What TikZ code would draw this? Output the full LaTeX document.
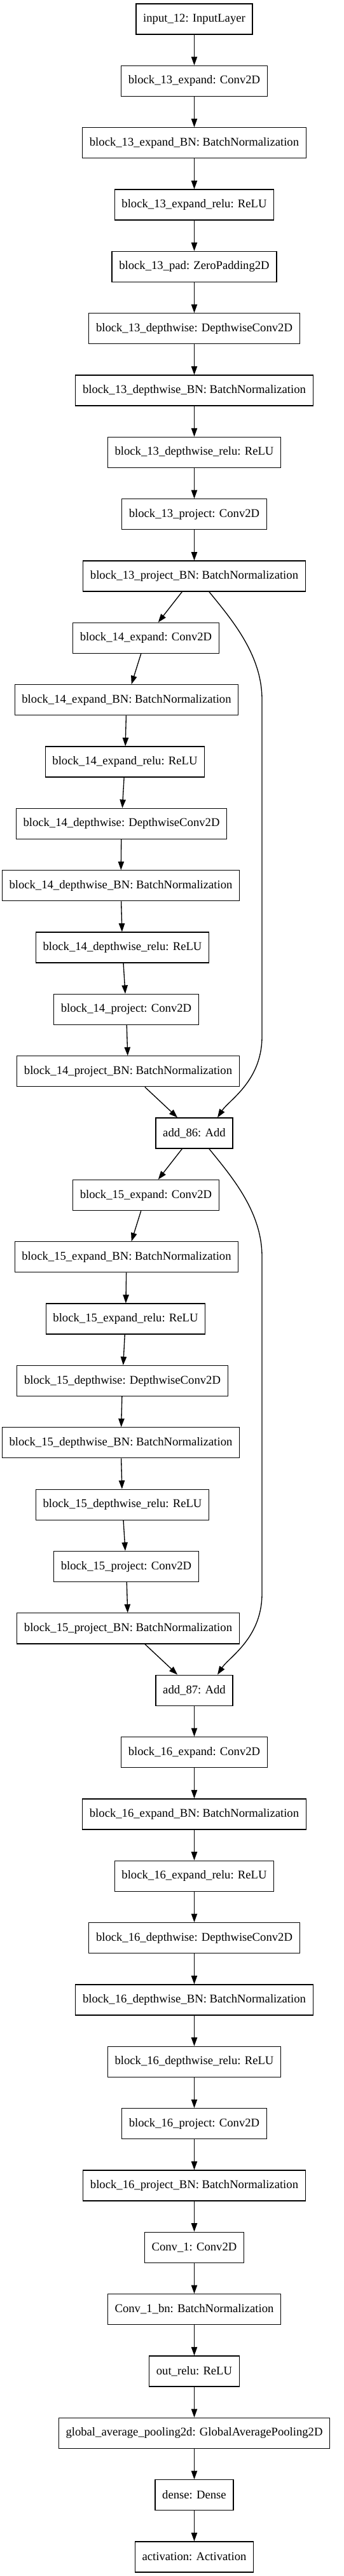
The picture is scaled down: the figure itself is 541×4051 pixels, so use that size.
\documentclass[tikz,border=0pt]{standalone}
\usepackage{fontspec}
\setmainfont{Liberation Serif}
\usetikzlibrary{arrows.meta,calc}
\tikzset{
  LayerStyle/.style = { rectangle, draw, line width = 1pt,
                        minimum height = 36pt, inner xsep = 8.4pt, inner ysep = 0pt,
                        font = \fontsize{14}{16}\selectfont },
  EdgeStyle/.style = { -{Triangle[length=10pt,width=7pt]}, line width = 1pt } }

\begin{document}
\begin{tikzpicture}[x=0.75pt,y=-0.75pt]
  \useasboundingbox (0,0) rectangle (541,4051);

  \node[LayerStyle] (in)     at (305.5,30)     {input\_12: InputLayer};
  \node[LayerStyle] (e13)    at (305.5,127.3)  {block\_13\_expand: Conv2D};
  \node[LayerStyle] (ebn13)  at (305.5,224.7)  {block\_13\_expand\_BN: BatchNormalization};
  \node[LayerStyle] (er13)   at (305.5,322.0)  {block\_13\_expand\_relu: ReLU};
  \node[LayerStyle] (pad13)  at (305.5,419.4)  {block\_13\_pad: ZeroPadding2D};
  \node[LayerStyle] (d13)    at (305.5,516.7)  {block\_13\_depthwise: DepthwiseConv2D};
  \node[LayerStyle] (dbn13)  at (305.5,614.0)  {block\_13\_depthwise\_BN: BatchNormalization};
  \node[LayerStyle] (dr13)   at (305.5,711.4)  {block\_13\_depthwise\_relu: ReLU};
  \node[LayerStyle] (p13)    at (305.5,808.7)  {block\_13\_project: Conv2D};
  \node[LayerStyle] (pbn13)  at (305.5,906.1)  {block\_13\_project\_BN: BatchNormalization};

  \node[LayerStyle] (e14)    at (229.5,1003.4) {block\_14\_expand: Conv2D};
  \node[LayerStyle] (ebn14)  at (199,1100.7)   {block\_14\_expand\_BN: BatchNormalization};
  \node[LayerStyle] (er14)   at (196.5,1198.1) {block\_14\_expand\_relu: ReLU};
  \node[LayerStyle] (d14)    at (191,1295.4)   {block\_14\_depthwise: DepthwiseConv2D};
  \node[LayerStyle] (dbn14)  at (190,1392.8)   {block\_14\_depthwise\_BN: BatchNormalization};
  \node[LayerStyle] (dr14)   at (192.5,1490.1) {block\_14\_depthwise\_relu: ReLU};
  \node[LayerStyle] (p14)    at (198.5,1587.4) {block\_14\_project: Conv2D};
  \node[LayerStyle] (pbn14)  at (201.5,1684.8) {block\_14\_project\_BN: BatchNormalization};
  \node[LayerStyle] (add86)  at (305.5,1782.1) {add\_86: Add};

  \node[LayerStyle] (e15)    at (229.5,1879.5) {block\_15\_expand: Conv2D};
  \node[LayerStyle] (ebn15)  at (199,1976.8)   {block\_15\_expand\_BN: BatchNormalization};
  \node[LayerStyle] (er15)   at (197.5,2074.1) {block\_15\_expand\_relu: ReLU};
  \node[LayerStyle] (d15)    at (192.5,2171.5) {block\_15\_depthwise: DepthwiseConv2D};
  \node[LayerStyle] (dbn15)  at (190,2268.8)   {block\_15\_depthwise\_BN: BatchNormalization};
  \node[LayerStyle] (dr15)   at (192.5,2366.2) {block\_15\_depthwise\_relu: ReLU};
  \node[LayerStyle] (p15)    at (198.5,2463.5) {block\_15\_project: Conv2D};
  \node[LayerStyle] (pbn15)  at (201.5,2560.8) {block\_15\_project\_BN: BatchNormalization};
  \node[LayerStyle] (add87)  at (305.5,2658.2) {add\_87: Add};

  \node[LayerStyle] (e16)    at (305.5,2755.5) {block\_16\_expand: Conv2D};
  \node[LayerStyle] (ebn16)  at (305.5,2852.9) {block\_16\_expand\_BN: BatchNormalization};
  \node[LayerStyle] (er16)   at (305.5,2950.2) {block\_16\_expand\_relu: ReLU};
  \node[LayerStyle] (d16)    at (305.5,3047.5) {block\_16\_depthwise: DepthwiseConv2D};
  \node[LayerStyle] (dbn16)  at (305.5,3144.9) {block\_16\_depthwise\_BN: BatchNormalization};
  \node[LayerStyle] (dr16)   at (305.5,3242.2) {block\_16\_depthwise\_relu: ReLU};
  \node[LayerStyle] (p16)    at (305.5,3339.6) {block\_16\_project: Conv2D};
  \node[LayerStyle] (pbn16)  at (305.5,3436.9) {block\_16\_project\_BN: BatchNormalization};
  \node[LayerStyle] (c1)     at (305.5,3534.2) {Conv\_1: Conv2D};
  \node[LayerStyle] (c1bn)   at (305.5,3631.6) {Conv\_1\_bn: BatchNormalization};
  \node[LayerStyle] (outr)   at (305.5,3728.9) {out\_relu: ReLU};
  \node[LayerStyle] (gap)    at (305.5,3826.3) {global\_average\_pooling2d: GlobalAveragePooling2D};
  \node[LayerStyle] (dense)  at (305.5,3923.6) {dense: Dense};
  \node[LayerStyle] (act)    at (305.5,4020.9) {activation: Activation};

  \draw[EdgeStyle] (in) -- (e13);
  \draw[EdgeStyle] (e13) -- (ebn13);
  \draw[EdgeStyle] (ebn13) -- (er13);
  \draw[EdgeStyle] (er13) -- (pad13);
  \draw[EdgeStyle] (pad13) -- (d13);
  \draw[EdgeStyle] (d13) -- (dbn13);
  \draw[EdgeStyle] (dbn13) -- (dr13);
  \draw[EdgeStyle] (dr13) -- (p13);
  \draw[EdgeStyle] (p13) -- (pbn13);
  \draw[EdgeStyle] (pbn13) -- (e14);
  \draw[EdgeStyle] (e14) -- (ebn14);
  \draw[EdgeStyle] (ebn14) -- (er14);
  \draw[EdgeStyle] (er14) -- (d14);
  \draw[EdgeStyle] (d14) -- (dbn14);
  \draw[EdgeStyle] (dbn14) -- (dr14);
  \draw[EdgeStyle] (dr14) -- (p14);
  \draw[EdgeStyle] (p14) -- (pbn14);
  \draw[EdgeStyle] (pbn14) -- (add86);
  \draw[EdgeStyle] (add86) -- (e15);
  \draw[EdgeStyle] (e15) -- (ebn15);
  \draw[EdgeStyle] (ebn15) -- (er15);
  \draw[EdgeStyle] (er15) -- (d15);
  \draw[EdgeStyle] (d15) -- (dbn15);
  \draw[EdgeStyle] (dbn15) -- (dr15);
  \draw[EdgeStyle] (dr15) -- (p15);
  \draw[EdgeStyle] (p15) -- (pbn15);
  \draw[EdgeStyle] (pbn15) -- (add87);
  \draw[EdgeStyle] (add87) -- (e16);
  \draw[EdgeStyle] (e16) -- (ebn16);
  \draw[EdgeStyle] (ebn16) -- (er16);
  \draw[EdgeStyle] (er16) -- (d16);
  \draw[EdgeStyle] (d16) -- (dbn16);
  \draw[EdgeStyle] (dbn16) -- (dr16);
  \draw[EdgeStyle] (dr16) -- (p16);
  \draw[EdgeStyle] (p16) -- (pbn16);
  \draw[EdgeStyle] (pbn16) -- (c1);
  \draw[EdgeStyle] (c1) -- (c1bn);
  \draw[EdgeStyle] (c1bn) -- (outr);
  \draw[EdgeStyle] (outr) -- (gap);
  \draw[EdgeStyle] (gap) -- (dense);
  \draw[EdgeStyle] (dense) -- (act);

  % skip connections
  \draw[EdgeStyle] ($(pbn13.south)+(23.5,0)$) .. controls (365,975) and (412,1030) .. (412,1100)
    -- (412,1630) .. controls (412,1700) and (360,1730) .. ($(add86.north)+(36.5,0)$);
  \draw[EdgeStyle] ($(add86.south)+(23.5,0)$) .. controls (365,1851) and (412,1906) .. (412,1976)
    -- (412,2506) .. controls (412,2576) and (360,2606) .. ($(add87.north)+(36.5,0)$);

\end{tikzpicture}
\end{document}
